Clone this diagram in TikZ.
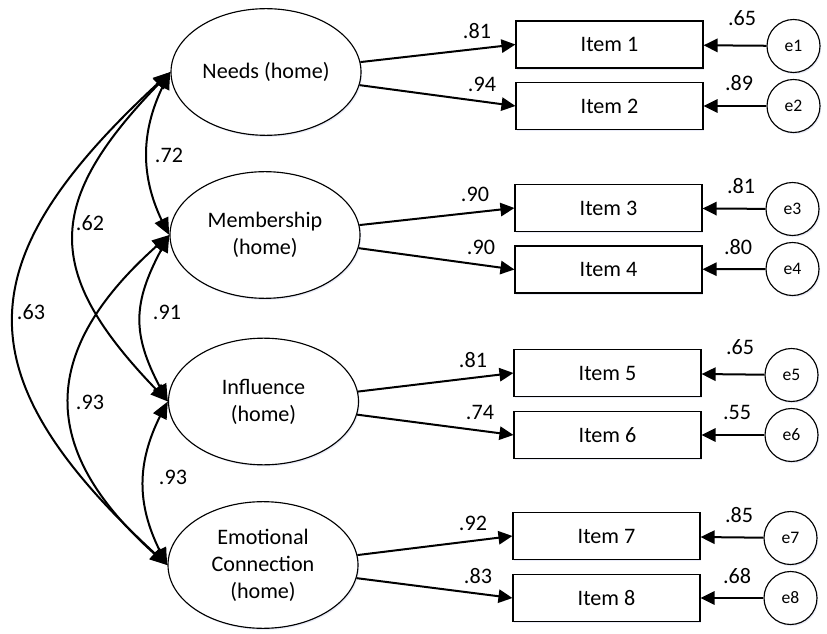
\documentclass[tikz,border=0pt]{standalone}
\usepackage{fontspec}
\setmainfont{Carlito}
\usetikzlibrary{arrows.meta,shapes.geometric,shadows,bending}
\begin{document}
\begin{tikzpicture}[x=0.75pt,y=0.75pt,
  font=\fontsize{16.6}{20.3}\selectfont,
  shad/.style={drop shadow={opacity=0.35,fill=cyan!35!blue!25,shadow xshift=0.9pt,shadow yshift=-1.2pt}},
  lvbox/.style={ellipse,draw,line width=0.85pt,fill=white,minimum width=142.5pt,minimum height=95pt,inner sep=0pt,align=center,shad},
  itbox/.style={rectangle,draw,line width=0.85pt,fill=white,minimum width=140.25pt,minimum height=35.25pt,inner sep=0pt,shad},
  errc/.style={circle,draw,line width=0.85pt,fill=white,minimum size=39.75pt,inner sep=0pt,font=\fontsize{13.2}{15}\selectfont,shad},
  loadarrow/.style={line width=1.5pt,-{Triangle[length=10.5pt,width=10pt]}},
  cov/.style={line width=1.5pt,{Triangle[length=13pt,width=11pt,bend]}-{Triangle[length=13pt,width=11pt,bend]}},
  lab/.style={inner sep=0pt}
]
\useasboundingbox (0,0) rectangle (827,-634);

% latent variables
\node[lvbox] (N) at (266,-72) {Needs (home)};
\node[lvbox] (M) at (265,-235) {Membership\\(home)};
\node[lvbox] (I) at (263.5,-401.5) {Influence\\(home)};
\node[lvbox] (E) at (263,-565) {Emotional\\Connection\\(home)};

% items
\node[itbox] (I1) at (609.5,-44.5) {Item 1};
\node[itbox] (I2) at (609.5,-106) {Item 2};
\node[itbox] (I3) at (608.5,-208) {Item 3};
\node[itbox] (I4) at (608.5,-269.5) {Item 4};
\node[itbox] (I5) at (607.5,-373) {Item 5};
\node[itbox] (I6) at (607.5,-435) {Item 6};
\node[itbox] (I7) at (606.5,-536) {Item 7};
\node[itbox] (I8) at (606.5,-598) {Item 8};

% errors
\node[errc] (e1) at (793.5,-46) {e1};
\node[errc] (e2) at (793.5,-106) {e2};
\node[errc] (e3) at (792.5,-209) {e3};
\node[errc] (e4) at (792.5,-269) {e4};
\node[errc] (e5) at (791.5,-375) {e5};
\node[errc] (e6) at (791.5,-435) {e6};
\node[errc] (e7) at (790.5,-538) {e7};
\node[errc] (e8) at (790.5,-598) {e8};

% loadings
\draw[loadarrow] (N.6) -- (I1.west);
\draw[loadarrow] (N.-8) -- (I2.west);
\draw[loadarrow] (M.6) -- (I3.west);
\draw[loadarrow] (M.-8) -- (I4.west);
\draw[loadarrow] (I.6) -- (I5.west);
\draw[loadarrow] (I.-8) -- (I6.west);
\draw[loadarrow] (E.6) -- (I7.west);
\draw[loadarrow] (E.-8) -- (I8.west);

% error paths
\draw[loadarrow] (e1) -- (I1);
\draw[loadarrow] (e2) -- (I2);
\draw[loadarrow] (e3) -- (I3);
\draw[loadarrow] (e4) -- (I4);
\draw[loadarrow] (e5) -- (I5);
\draw[loadarrow] (e6) -- (I6);
\draw[loadarrow] (e7) -- (I7);
\draw[loadarrow] (e8) -- (I8);

% covariances
\draw[cov] (N.west) to[out=240,in=120,looseness=1] (M.west);
\draw[cov] (N.west) to[out=225,in=135,looseness=1.42] (I.west);
\draw[cov] (N.west) to[out=222,in=138,looseness=1.46] (E.west);
\draw[cov] (M.west) to[out=240,in=120,looseness=1.2] (I.west);
\draw[cov] (M.west) to[out=220,in=140,looseness=1.36] (E.west);
\draw[cov] (I.west) to[out=240,in=120,looseness=1.05] (E.west);

% loading labels
\node[lab] (l1) at (477,-31) {.81};
\node[lab] (l2) at (482,-84) {.94};
\node[lab] (l3) at (475,-194) {.90};
\node[lab] (l4) at (481,-247) {.90};
\node[lab] (l5) at (473,-360) {.81};
\node[lab] (l6) at (480,-412) {.74};
\node[lab] (l7) at (473,-523) {.92};
\node[lab] (l8) at (478,-576) {.83};

% error labels
\node[lab] (r1) at (742,-18) {.65};
\node[lab] (r2) at (739,-83) {.89};
\node[lab] (r3) at (741,-186) {.81};
\node[lab] (r4) at (738,-247) {.80};
\node[lab] (r5) at (740,-347) {.65};
\node[lab] (r6) at (737,-412) {.55};
\node[lab] (r7) at (739,-515) {.85};
\node[lab] (r8) at (737,-576) {.68};

% correlation labels
\node[lab] (c1) at (169,-155) {.72};
\node[lab] (c2) at (90,-223) {.62};
\node[lab] (c3) at (31,-312) {.63};
\node[lab] (c4) at (167,-312) {.91};
\node[lab] (c5) at (90,-402) {.93};
\node[lab] (c6) at (173,-477) {.93};
\end{tikzpicture}
\end{document}
